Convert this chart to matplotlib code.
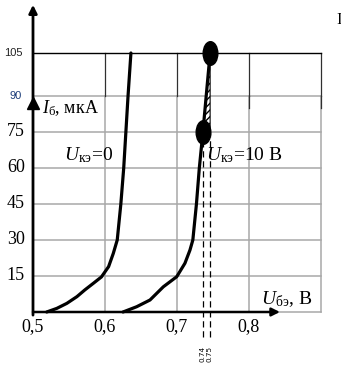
import numpy as np
import matplotlib
matplotlib.use("Agg")
from matplotlib import pyplot as plt
from matplotlib.path import Path
from matplotlib.transforms import Affine2D

plt.rcParams['font.family'] = ['Liberation Serif', 'DejaVu Serif']
plt.rcParams['mathtext.fontset'] = 'custom'
plt.rcParams['mathtext.rm'] = 'Liberation Serif'
plt.rcParams['mathtext.it'] = 'Liberation Serif:italic'

# input characteristics I_b(U_be)
u_be_0 = [0.519, 0.533, 0.547, 0.561, 0.572, 0.584, 0.595, 0.605, 0.6115, 0.617,
          0.622, 0.626, 0.629, 0.632, 0.636]
i_b_0 = [0, 1.5, 3.6, 6.4, 9.2, 12, 14.6, 18.9, 24.4, 30, 45, 60, 75, 90, 105]
u_be_10 = [0.625, 0.644, 0.6625, 0.681, 0.6996, 0.711, 0.718, 0.722, 0.727, 0.731,
           0.736, 0.746]
i_b_10 = [0, 2.2, 5, 10.5, 14.7, 20.3, 25.8, 30, 45, 60, 75, 105]

# working points (dots) and dashed projections
pt_u = [0.736, 0.746]
pt_i = [75, 105]
dash_labels = ["0.74", "0.75"]

x_ticks = [0.5, 0.6, 0.7, 0.8]
x_ticklabels = ["0,5", "0,6", "0,7", "0,8"]
y_ticks = [15, 30, 45, 60, 75]
x_grid = [0.6, 0.7, 0.8, 0.9]
y_grid = [15, 30, 45, 60, 75, 90]

# the 105 row is drawn a bit taller than the others
K = 43 / 36


def fwd(y):
    y = np.asarray(y, dtype=float)
    return np.where(y <= 90, y, 90 + (y - 90) * K)


def inv(y):
    y = np.asarray(y, dtype=float)
    return np.where(y <= 90, y, 90 + (y - 90) / K)


fig = plt.figure(figsize=(3.41, 3.73), dpi=100)
ax = fig.add_axes([0, 0, 1, 1])
ax.set_yscale('function', functions=(fwd, inv))
ax.set_xlim(0.5 - 33 / 720, 0.5 + 308 / 720)
ax.set_ylim(-61 / 2.4, 90 + (312 / 2.4 - 90) / K)
ax.axis('off')

grid_c = '#a8a8a8'
for y in y_grid:
    ax.plot([0.5, 0.9], [y, y], color=grid_c, lw=1.1, zorder=1)
for x in x_grid:
    ax.plot([x, x], [0, 90], color=grid_c, lw=1.1, zorder=1)
    ax.plot([x, x], [90, 105], color='#303030', lw=0.9, zorder=1)
ax.plot([0.8, 0.8], [85, 90], color='#303030', lw=0.9, zorder=1)
ax.plot([0.9, 0.9], [85, 90], color='#303030', lw=0.9, zorder=1)
ax.plot([0.5, 0.9], [0, 0], color=grid_c, lw=1.1, zorder=1)
ax.plot([0.5, 0.9], [105, 105], color='black', lw=1.0, zorder=2)

# axes with arrows
ax.annotate('', xy=(0.5, 121.8), xytext=(0.5, -1.3),
            arrowprops=dict(arrowstyle='-|>', lw=2.0, color='black',
                            mutation_scale=12, shrinkA=0, shrinkB=0), zorder=5)
ax.plot([0.5], [87], marker='^', ms=8, color='black', zorder=5)
ax.annotate('', xy=(0.843, 0), xytext=(0.5, 0),
            arrowprops=dict(arrowstyle='-|>', lw=1.8, color='black',
                            mutation_scale=12, shrinkA=0, shrinkB=0), zorder=5)

# curves
ax.plot(u_be_0, i_b_0, color='black', lw=2.3, zorder=4, solid_capstyle='round',
        solid_joinstyle='round')
ax.plot(u_be_10, i_b_10, color='black', lw=2.3, zorder=4, solid_capstyle='round',
        solid_joinstyle='round')

# hatched triangle between the two working points
ax.fill([pt_u[0], pt_u[1], pt_u[1]], [pt_i[0], pt_i[1], pt_i[0]],
        facecolor='white', edgecolor='black', hatch='/////', lw=0.8, zorder=3)

# dashed projections to the axis
for u, i in zip(pt_u, pt_i):
    ax.plot([u, u], [-10.4, pt_i[0]], color='black', lw=0.9, ls=(0, (5, 3)), zorder=3)

# dots
ell = Path(Affine2D().scale(0.62, 1.0).transform(Path.unit_circle().vertices),
           Path.unit_circle().codes)
ax.plot(pt_u, pt_i, ls='none', marker=ell, ms=17, color='black', zorder=6)

# tick labels
for x, lab in zip(x_ticks, x_ticklabels):
    ax.text(x, -6, lab, ha='center', va='center', fontsize=13)
for y in y_ticks:
    ax.text(0.4885, y, str(y), ha='right', va='center', fontsize=13)
ax.text(0.486, 105, '105', ha='right', va='center', fontsize=8,
        family=['Liberation Sans Narrow', 'Liberation Sans', 'DejaVu Sans'], color='#222222')
ax.text(0.484, 90, '90', ha='right', va='center', fontsize=8,
        family=['Liberation Sans Narrow', 'Liberation Sans', 'DejaVu Sans'], color='#1c3d7a')
for u, lab in zip(pt_u, dash_labels):
    ax.text(u - 0.0012, -14, lab, rotation=90, ha='center', va='top', fontsize=5.2,
            family=['DejaVu Sans'])

# annotations
ax.text(0.5125, 85, r'$I_{\mathrm{б}}$, мкА', ha='left', va='center', fontsize=13)
ax.text(0.543, 65.5, r'$U_{\mathrm{кэ}}$=0', ha='left', va='center', fontsize=14)
ax.text(0.7405, 65.5, r'$U_{\mathrm{кэ}}$=10 В', ha='left', va='center', fontsize=14)
ax.text(0.816, 5.5, r'$U_{\mathrm{бэ}}$, В', ha='left', va='center', fontsize=14)

# clipped characters at the right edge
ax.text(0.92, 127.5, 'С', ha='left', va='center', fontsize=11)
ax.text(0.922, 116.5, 'I', ha='left', va='center', fontsize=12)

fig.savefig('out.png', dpi=100)
